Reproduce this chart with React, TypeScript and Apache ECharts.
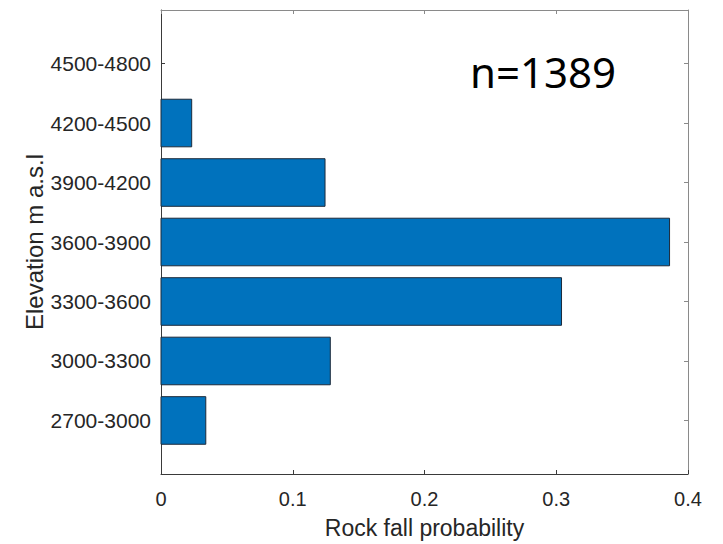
import React, { useEffect, useRef } from "react";
import * as echarts from "echarts";

const categories = ["2700-3000", "3000-3300", "3300-3600", "3600-3900", "3900-4200", "4200-4500", "4500-4800"];
const probabilities = [0.034, 0.1285, 0.304, 0.386, 0.1245, 0.0233, 0];
const xTicks = [0, 0.1, 0.2, 0.3, 0.4];
const annotation = "n=1389";

const FONT = "Liberation Sans, Arial, Helvetica, sans-serif";
const AX = "#3a3a3a";
const AX2 = "#8a8a8a";

export default function App() {
  const ref = useRef<HTMLDivElement>(null);
  useEffect(() => {
    if (!ref.current) return;
    const chart = echarts.init(ref.current, undefined, { renderer: "svg" });
    const idx = categories.map((_, i) => i);
    const data = probabilities.map((v, i) => [v, i]);
    chart.setOption({
      animation: false,
      backgroundColor: "#ffffff",
      grid: { left: 161, right: 35, top: 10, bottom: 67, containLabel: false },
      xAxis: [
        {
          type: "value",
          min: xTicks[0],
          max: xTicks[xTicks.length - 1],
          interval: 0.1,
          position: "bottom",
          splitLine: { show: false },
          axisLine: { show: true, onZero: false, lineStyle: { color: AX, width: 1 } },
          axisTick: { show: true, inside: true, length: 4, lineStyle: { color: AX } },
          axisLabel: { color: "#262626", fontSize: 20, fontFamily: FONT, margin: 15 },
          name: "Rock fall probability",
          nameLocation: "middle",
          nameGap: 42,
          nameMoveOverlap: false,
          nameTextStyle: { color: "#262626", fontSize: 23, fontFamily: FONT },
        },
        {
          type: "value",
          min: xTicks[0],
          max: xTicks[xTicks.length - 1],
          interval: 0.1,
          position: "top",
          splitLine: { show: false },
          axisLine: { show: true, onZero: false, lineStyle: { color: AX2, width: 1 } },
          axisTick: { show: true, inside: true, length: 4, lineStyle: { color: AX2 } },
          axisLabel: { show: false },
        },
      ],
      yAxis: [
        {
          type: "value",
          min: -0.9,
          max: 6.9,
          position: "left",
          splitLine: { show: false },
          axisLine: { show: true, onZero: false, lineStyle: { color: AX, width: 1 } },
          axisTick: { show: true, inside: true, length: 4, customValues: idx, lineStyle: { color: AX } },
          axisLabel: {
            customValues: idx,
            formatter: (v: number) => categories[Math.round(v)] ?? "",
            color: "#262626",
            fontSize: 21,
            fontFamily: FONT,
            margin: 10,
          },
          name: "Elevation m a.s.l",
          nameLocation: "middle",
          nameGap: 115,
          nameMoveOverlap: false,
          nameTextStyle: { color: "#262626", fontSize: 24, fontFamily: FONT },
        },
        {
          type: "value",
          min: -0.9,
          max: 6.9,
          position: "right",
          splitLine: { show: false },
          axisLine: { show: true, onZero: false, lineStyle: { color: AX2, width: 1 } },
          axisTick: { show: true, inside: true, length: 4, customValues: idx, lineStyle: { color: AX2 } },
          axisLabel: { show: false },
        },
      ],
      series: [
        {
          type: "custom",
          xAxisIndex: 0,
          yAxisIndex: 0,
          data,
          renderItem: (params: any, api: any) => {
            const v = api.value(0);
            const c = api.value(1);
            const start = api.coord([0, c]);
            const end = api.coord([v, c]);
            const h = api.size([0, 0.8])[1];
            if (v <= 0) return { type: "group", children: [] };
            return {
              type: "rect",
              shape: { x: start[0], y: start[1] - h / 2, width: end[0] - start[0], height: h },
              style: { fill: "#0072BD", stroke: "#1c2a3a", lineWidth: 1 },
            };
          },
        },
      ],
      graphic: [
        {
          type: "text",
          left: 470,
          top: 50,
          style: { text: annotation, fontSize: 42, fontFamily: "Noto Sans, Open Sans, sans-serif", fill: "#000000" },
        },
      ],
    });
    return () => chart.dispose();
  }, []);
  return <div ref={ref} style={{ position: "fixed", left: 0, top: 0, width: 723, height: 544, background: "#fff" }} />;
}
